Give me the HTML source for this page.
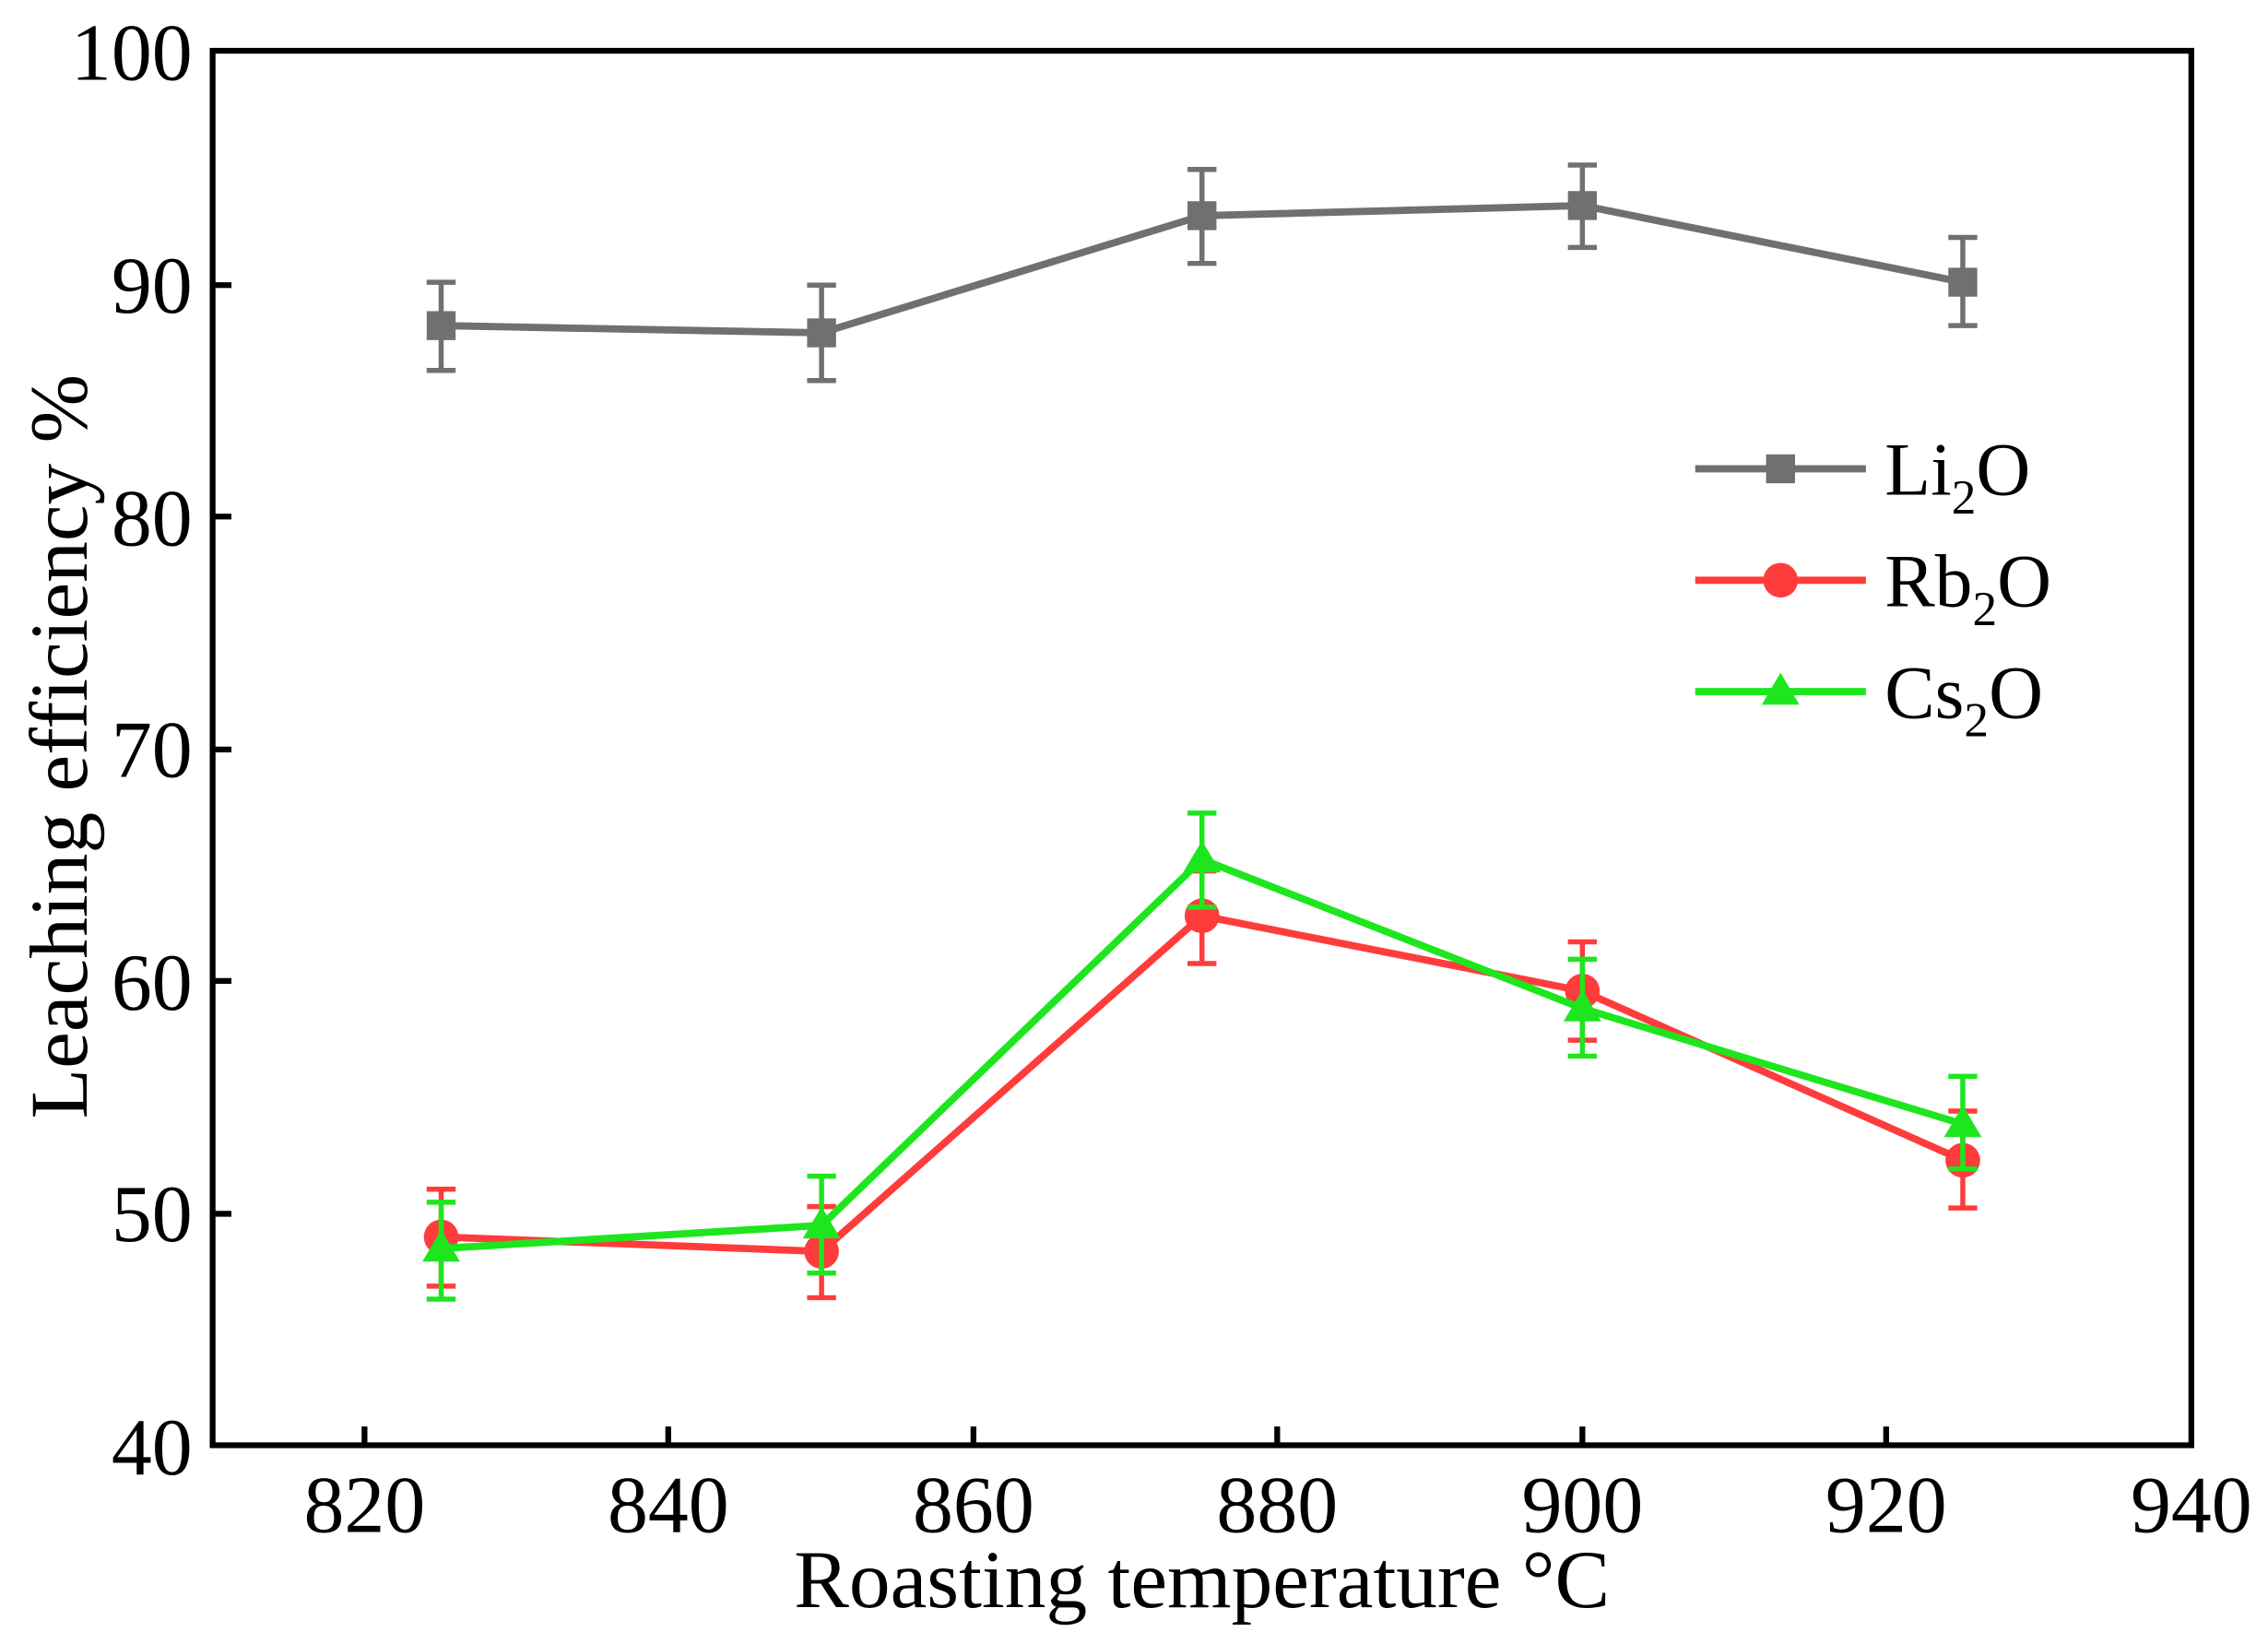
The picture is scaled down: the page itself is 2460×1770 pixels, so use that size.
<!DOCTYPE html>
<html><head><meta charset="utf-8"><style>html,body{margin:0;padding:0;background:#fff}svg{display:block}</style></head>
<body>
<svg width="2460" height="1770" viewBox="0 0 1568 1128" xmlns="http://www.w3.org/2000/svg" font-family="Liberation Serif, serif">
<rect width="1568" height="1128" fill="#fff"/>
<!-- Li2O -->
<g stroke="#707070" stroke-width="3.5" fill="none">
<path d="M305,195V256M295,195H315M295,256H315"/>
<path d="M568,197V263M558,197H578M558,263H578"/>
<path d="M831,117V182M821,117H841M821,182H841"/>
<path d="M1094,114V171M1084,114H1104M1084,171H1104"/>
<path d="M1357,164V225M1347,164H1367M1347,225H1367"/>
</g>
<polyline points="305,225 568,230 831,149 1094,142 1357,195" fill="none" stroke="#707070" stroke-width="5"/>
<g fill="#707070"><rect x="295" y="215" width="20" height="20"/><rect x="558" y="220" width="20" height="20"/><rect x="821" y="139" width="20" height="20"/><rect x="1084" y="132" width="20" height="20"/><rect x="1347" y="185" width="20" height="20"/></g>
<!-- Rb2O -->
<g stroke="#ff3c3c" stroke-width="3.5" fill="none">
<path d="M305,822V889M295,822H315M295,889H315"/>
<path d="M568,834V897M558,834H578M558,897H578"/>
<path d="M831,602V666M821,602H841M821,666H841"/>
<path d="M1094,651V719M1084,651H1104M1084,719H1104"/>
<path d="M1357,768V835M1347,768H1367M1347,835H1367"/>
</g>
<polyline points="305,855 568,865 831,633 1094,685 1357,802" fill="none" stroke="#ff3c3c" stroke-width="5"/>
<g fill="#ff3c3c"><circle cx="305" cy="855" r="12"/><circle cx="568" cy="865" r="12"/><circle cx="831" cy="633" r="12"/><circle cx="1094" cy="685" r="12"/><circle cx="1357" cy="802" r="12"/></g>
<!-- Cs2O -->
<g stroke="#1ee61e" stroke-width="3.5" fill="none">
<path d="M305,831V898M295,831H315M295,898H315"/>
<path d="M568,813V880M558,813H578M558,880H578"/>
<path d="M831,562V627M821,562H841M821,627H841"/>
<path d="M1094,663V730M1084,663H1104M1084,730H1104"/>
<path d="M1357,744V808M1347,744H1367M1347,808H1367"/>
</g>
<polyline points="305,863 568,847 831,594 1094,697 1357,777" fill="none" stroke="#1ee61e" stroke-width="5"/>
<g fill="#1ee61e"><path d="M305,850l13,22h-26z"/><path d="M568,834l13,22h-26z"/><path d="M831,581l13,22h-26z"/><path d="M1094,684l13,22h-26z"/><path d="M1357,764l13,22h-26z"/></g>
<!-- frame -->
<rect x="147" y="35" width="1368" height="964" fill="none" stroke="#000" stroke-width="4"/>
<g stroke="#000" stroke-width="4">
<path d="M252,999v-13M462,999v-13M673,999v-13M883,999v-13M1094,999v-13M1304,999v-13"/>
<path d="M147,839h13M147,678h13M147,518h13M147,357h13M147,197h13"/>
</g>
<g font-size="56" fill="#000" text-anchor="end">
<text x="133" y="55">100</text><text x="133" y="216">90</text><text x="133" y="377">80</text><text x="133" y="537">70</text><text x="133" y="698">60</text><text x="133" y="858">50</text><text x="133" y="1019">40</text>
</g>
<g font-size="56" fill="#000" text-anchor="middle">
<text x="252" y="1059">820</text><text x="462" y="1059">840</text><text x="673" y="1059">860</text><text x="883" y="1059">880</text><text x="1094" y="1059">900</text><text x="1304" y="1059">920</text><text x="1515" y="1059">940</text>
<text x="831" y="1111" font-size="57">Roasting temperature °C</text>
<text transform="translate(60,516) rotate(-90)" font-size="57">Leaching efficiency %</text>
</g>
<!-- legend -->
<line x1="1172" y1="324" x2="1290" y2="324" stroke="#707070" stroke-width="5"/><rect x="1221" y="314" width="20" height="20" fill="#707070"/>
<line x1="1172" y1="401" x2="1290" y2="401" stroke="#ff3c3c" stroke-width="5"/><circle cx="1231" cy="401" r="12" fill="#ff3c3c"/>
<line x1="1172" y1="478" x2="1290" y2="478" stroke="#1ee61e" stroke-width="5"/><path d="M1231,465l13,22h-26z" fill="#1ee61e"/>
<g font-size="52" fill="#000">
<text x="1303" y="342">Li<tspan font-size="34" dy="13">2</tspan><tspan dy="-13">O</tspan></text>
<text x="1303" y="419">Rb<tspan font-size="34" dy="13">2</tspan><tspan dy="-13">O</tspan></text>
<text x="1303" y="496">Cs<tspan font-size="34" dy="13">2</tspan><tspan dy="-13">O</tspan></text>
</g>
</svg>
</body></html>
